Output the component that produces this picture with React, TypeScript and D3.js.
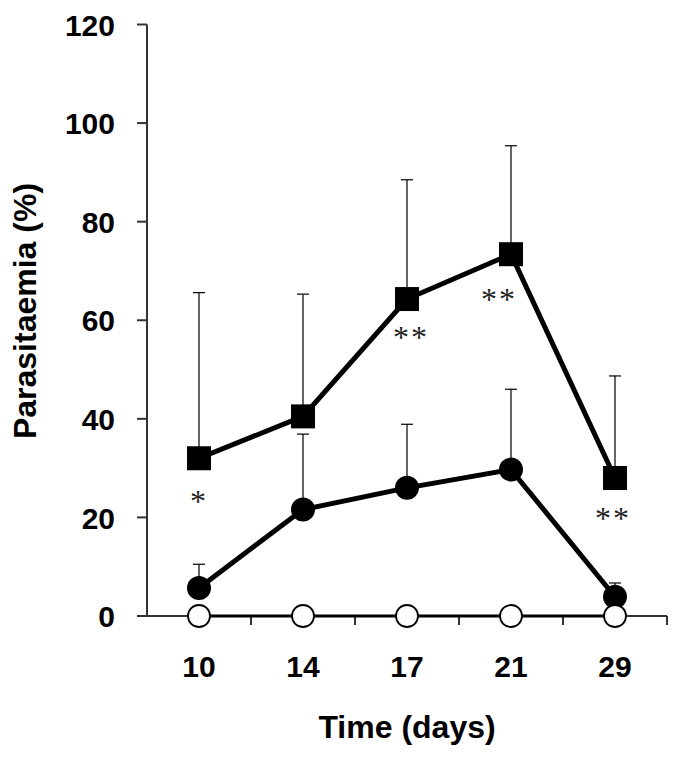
import React from "react";
import * as d3 from "d3";

const days = ["10", "14", "17", "21", "29"];
const squareMean = [32.0, 40.5, 64.3, 73.4, 28.0];
const squareUpper = [65.6, 65.3, 88.5, 95.4, 48.7];
const circleMean = [5.7, 21.6, 26.0, 29.7, 3.9];
const circleUpper = [10.5, 36.9, 38.9, 46.0, 6.7];
const openMean = [0, 0, 0, 0, 0];
const yTicks = [0, 20, 40, 60, 80, 100, 120];
const stars = ["*", "", "**", "**", "**"];
const starValue = [24.1, 0, 57.4, 65.1, 20.7];
// horizontal nudges of the significance marks (layout, px)
const starNudge = [0, 0, 4, -12, -2];

const W = 685;
const H = 758;

export default function App() {
  const x = d3.scaleBand().domain(days).range([147, 667]).padding(0);
  const y = d3.scaleLinear().domain([0, 120]).range([616, 24.5]);
  const cx = (d: string) => (x(d) as number) + x.bandwidth() / 2;
  const line = d3
    .line<number>()
    .x((_, i) => cx(days[i]))
    .y((v) => y(v));
  const font = "'Liberation Sans', Arial, sans-serif";
  const boundaries = days.map((d) => (x(d) as number) + x.bandwidth());

  return (
    <svg
      width={W}
      height={H}
      style={{ position: "absolute", left: 0, top: 0, background: "#fff" }}
    >
      {/* y axis */}
      <line x1={147} x2={147} y1={y(120)} y2={y(0)} stroke="#333" strokeWidth={2} />
      {yTicks.map((t) => (
        <g key={t}>
          <line x1={137} x2={147} y1={y(t)} y2={y(t)} stroke="#333" strokeWidth={2} />
          <text
            x={115}
            y={y(t)}
            dy="0.37em"
            textAnchor="end"
            fontFamily={font}
            fontWeight="bold"
            fontSize={30}
            fill="#000"
          >
            {t}
          </text>
        </g>
      ))}
      {/* x axis */}
      <line x1={147} x2={667} y1={y(0)} y2={y(0)} stroke="#333" strokeWidth={2} />
      {boundaries.map((b, i) => (
        <line key={i} x1={b} x2={b} y1={y(0)} y2={y(0) + 9} stroke="#333" strokeWidth={2} />
      ))}
      {days.map((d) => (
        <text
          key={d}
          x={cx(d)}
          y={677}
          textAnchor="middle"
          fontFamily={font}
          fontWeight="bold"
          fontSize={30}
          fill="#000"
        >
          {d}
        </text>
      ))}
      <text
        x={407}
        y={738}
        textAnchor="middle"
        fontFamily={font}
        fontWeight="bold"
        fontSize={32}
        fill="#000"
      >
        Time (days)
      </text>
      <text
        transform={`translate(36, 311) rotate(-90)`}
        textAnchor="middle"
        fontFamily={font}
        fontWeight="bold"
        fontSize={32}
        fill="#000"
      >
        Parasitaemia (%)
      </text>

      {/* error bars */}
      {[
        [squareMean, squareUpper],
        [circleMean, circleUpper],
      ].map(([m, u], si) =>
        days.map((d, i) => (
          <g key={`${si}-${d}`}>
            <line x1={cx(d)} x2={cx(d)} y1={y(m[i])} y2={y(u[i])} stroke="#000" strokeWidth={1.2} />
            <line x1={cx(d) - 6} x2={cx(d) + 6} y1={y(u[i])} y2={y(u[i])} stroke="#000" strokeWidth={1.2} />
          </g>
        ))
      )}

      {/* lines */}
      <path d={line(openMean) || ""} fill="none" stroke="#000" strokeWidth={3} />
      <path d={line(squareMean) || ""} fill="none" stroke="#000" strokeWidth={5} />
      <path d={line(circleMean) || ""} fill="none" stroke="#000" strokeWidth={5} />

      {/* markers */}
      {days.map((d, i) => (
        <rect
          key={`s${d}`}
          x={cx(d) - 12}
          y={y(squareMean[i]) - 12}
          width={24}
          height={24}
          fill="#000"
        />
      ))}
      {days.map((d, i) => (
        <circle key={`c${d}`} cx={cx(d)} cy={y(circleMean[i])} r={12} fill="#000" />
      ))}
      {days.map((d, i) => (
        <circle
          key={`o${d}`}
          cx={cx(d)}
          cy={y(openMean[i])}
          r={11}
          fill="#fff"
          stroke="#000"
          strokeWidth={1.8}
        />
      ))}

      {/* significance */}
      {days.map((d, i) =>
        stars[i] ? (
          <text
            key={`st${d}`}
            x={cx(d) + starNudge[i]}
            y={y(starValue[i])}
            dy="0.47em"
            textAnchor="middle"
            fontFamily="'Liberation Serif', 'Times New Roman', serif"
            fontSize={32}
            letterSpacing={2}
            fill="#222"
          >
            {stars[i]}
          </text>
        ) : null
      )}
    </svg>
  );
}
